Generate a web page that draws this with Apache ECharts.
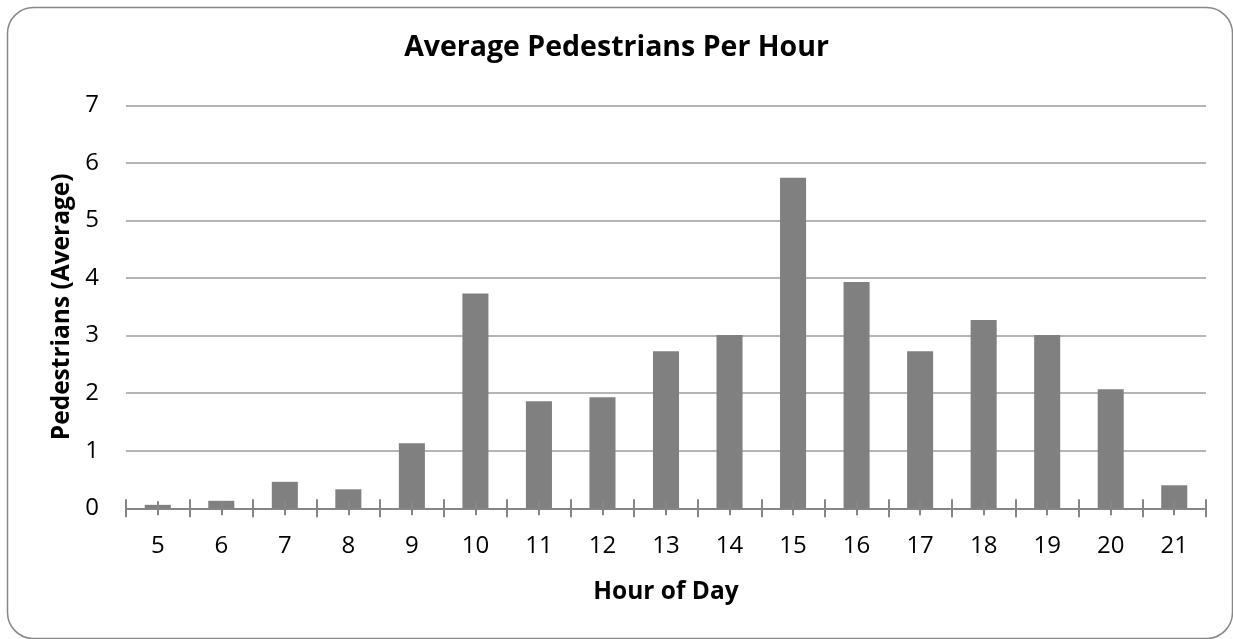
<!DOCTYPE html>
<html>
<head>
<meta charset="utf-8">
<title>Average Pedestrians Per Hour</title>
<script src="https://cdn.jsdelivr.net/npm/echarts@6/dist/echarts.min.js"></script>
<style>
  html, body { margin: 0; padding: 0; background: #ffffff; }
  #chart { width: 1233px; height: 639px; }
</style>
</head>
<body>
<div id="chart"></div>
<script>
// Hour of day (categories) and average pedestrian counts per hour
const hours = ['5', '6', '7', '8', '9', '10', '11', '12', '13', '14', '15', '16', '17', '18', '19', '20', '21'];
const avgPedestrians = [0.06, 0.13, 0.46, 0.33, 1.13, 3.73, 1.86, 1.93, 2.73, 3.01, 5.74, 3.93, 2.73, 3.27, 3.01, 2.07, 0.40];
const yTicks = { min: 0, max: 7, interval: 1 };

const FONT = '"Open Sans", "DejaVu Sans", sans-serif';
const AXIS_GRAY = '#868686';

// helper for the tick-only category axes that sit on top of the main x axis
function tickAxis(alignWithLabel, inside, length) {
  return {
    type: 'category',
    data: hours,
    position: 'bottom',
    gridIndex: 0,
    z: 3,
    axisLine: { show: false },
    axisLabel: { show: false },
    splitLine: { show: false },
    axisTick: {
      show: true,
      interval: 0,
      alignWithLabel: alignWithLabel,
      inside: inside,
      length: length,
      lineStyle: { color: AXIS_GRAY, width: 2 }
    }
  };
}

const chart = echarts.init(document.getElementById('chart'), null, { renderer: 'canvas' });

chart.setOption({
  backgroundColor: '#ffffff',
  animation: false,
  graphic: [{
    type: 'rect',
    shape: { x: 7.5, y: 7.5, width: 1225, height: 631, r: 26 },
    style: { fill: 'none', stroke: '#878787', lineWidth: 1.5 },
    silent: true,
    z: -10
  }],
  title: {
    text: 'Average Pedestrians Per Hour',
    left: 'center',
    top: 33,
    padding: 0,
    textStyle: { fontFamily: FONT, fontWeight: 'bold', fontSize: 28.5, color: '#000000' }
  },
  grid: { left: 126, top: 105.3, width: 1080, height: 403, containLabel: false },
  xAxis: [
    {
      type: 'category',
      data: hours,
      position: 'bottom',
      z: 3,
      name: 'Hour of Day',
      nameLocation: 'middle',
      nameGap: 71,
      nameTextStyle: { fontFamily: FONT, fontWeight: 'bold', fontSize: 24.5, color: '#000000' },
      axisLine: { show: true, lineStyle: { color: AXIS_GRAY, width: 2 } },
      axisTick: { show: true, interval: 0, alignWithLabel: false, inside: false, length: 9, lineStyle: { color: AXIS_GRAY, width: 2 } },
      axisLabel: { interval: 0, margin: 26, fontFamily: FONT, fontSize: 24, color: '#000000' },
      splitLine: { show: false }
    },
    tickAxis(false, true, 9),
    tickAxis(true, false, 7),
    tickAxis(true, true, 7)
  ],
  yAxis: {
    type: 'value',
    min: yTicks.min,
    max: yTicks.max,
    interval: yTicks.interval,
    name: 'Pedestrians (Average)',
    nameLocation: 'middle',
    nameGap: 51,
    nameTextStyle: { fontFamily: FONT, fontWeight: 'bold', fontSize: 24.5, color: '#000000' },
    axisLine: { show: false },
    axisTick: { show: false },
    axisLabel: { margin: 27, fontFamily: FONT, fontSize: 24, color: '#000000' },
    splitLine: { show: true, lineStyle: { color: '#b5b5b5', width: 2 } }
  },
  series: [{
    type: 'bar',
    xAxisIndex: 0,
    data: avgPedestrians,
    barWidth: '41%',
    itemStyle: { color: '#808080' },
    z: 2
  }]
});
</script>
</body>
</html>
